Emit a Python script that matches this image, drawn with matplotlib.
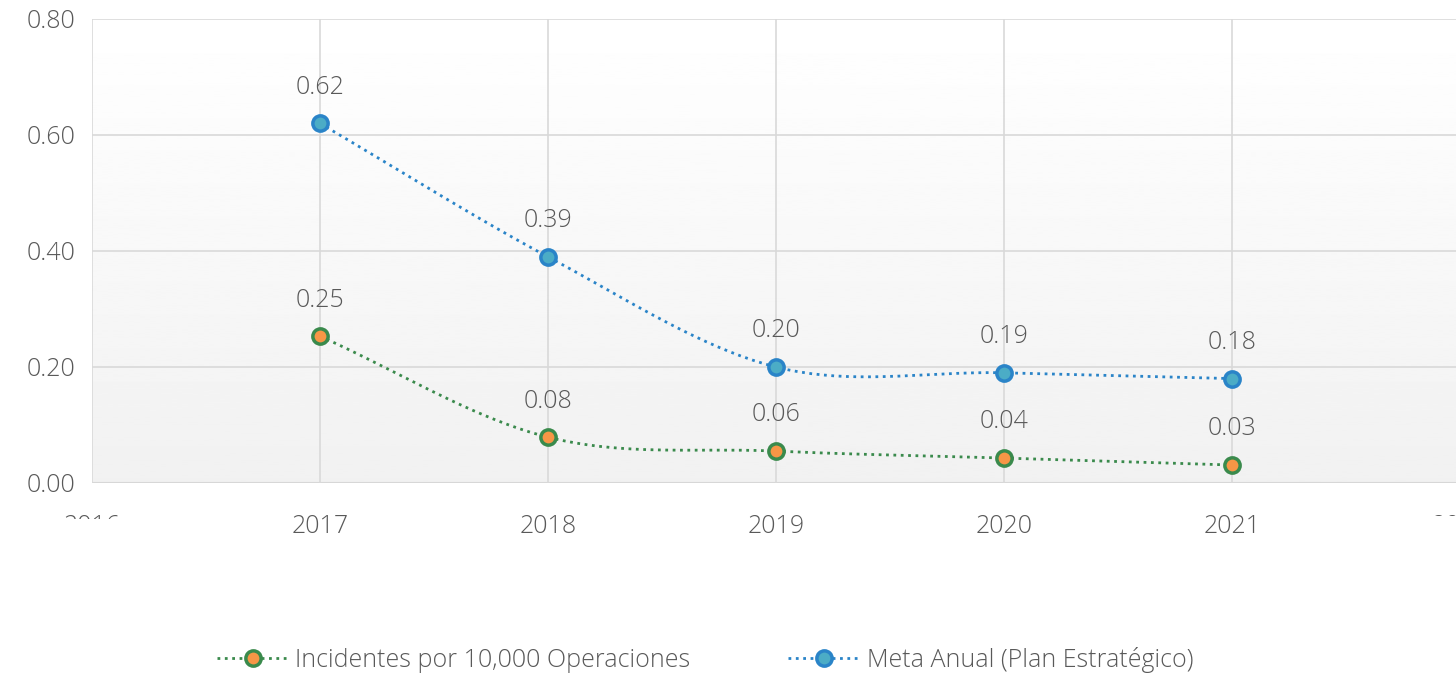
import matplotlib.pyplot as plt
import numpy as np
from matplotlib.lines import Line2D
from matplotlib.transforms import Bbox

years = [2017, 2018, 2019, 2020, 2021]
incidentes = [0.253, 0.079, 0.055, 0.043, 0.031]
meta = [0.62, 0.39, 0.20, 0.19, 0.18]
lbl_inc = ["0.25", "0.08", "0.06", "0.04", "0.03"]
lbl_meta = ["0.62", "0.39", "0.20", "0.19", "0.18"]
xticks = [2016, 2017, 2018, 2019, 2020, 2021, 2022]
yticks = [0.0, 0.2, 0.4, 0.6, 0.8]

plt.rcParams['font.family'] = ['Open Sans', 'DejaVu Sans']
gray = '#595959'


def smooth(x, y, n=40):
    # catmull-rom style smoothing like the spreadsheet "smoothed line"
    x = np.asarray(x, float)
    y = np.asarray(y, float)
    px = np.concatenate([[2 * x[0] - x[1]], x, [2 * x[-1] - x[-2]]])
    py = np.concatenate([[2 * y[0] - y[1]], y, [2 * y[-1] - y[-2]]])
    xs, ys = [], []
    t = np.linspace(0, 1, n)
    for i in range(1, len(px) - 2):
        p0, p1, p2, p3 = py[i - 1], py[i], py[i + 1], py[i + 2]
        q0, q1, q2, q3 = px[i - 1], px[i], px[i + 1], px[i + 2]
        for (a0, a1, a2, a3, out) in ((q0, q1, q2, q3, xs), (p0, p1, p2, p3, ys)):
            out.extend(0.5 * ((2 * a1) + (-a0 + a2) * t
                              + (2 * a0 - 5 * a1 + 4 * a2 - a3) * t ** 2
                              + (-a0 + 3 * a1 - 3 * a2 + a3) * t ** 3))
    return np.array(xs), np.array(ys)


fig = plt.figure(figsize=(14.56, 6.75), dpi=100)
ax = fig.add_axes([92 / 1456, 1 - 483 / 675, 1368 / 1456, 464 / 675])
ax.set_xlim(2016, 2022)
ax.set_ylim(0, 0.8)

# gradient background
grad = np.linspace(1.0, 0.945, 256).reshape(-1, 1)
ax.imshow(grad, extent=[0, 1, 0, 1], transform=ax.transAxes, cmap='gray',
          vmin=0, vmax=1, aspect='auto', zorder=0)

ax.set_xticks(xticks)
ax.set_yticks(yticks)
ax.grid(True, color='#d9d9d9', linewidth=1.2, zorder=1)
for s in ax.spines.values():
    s.set_visible(False)
ax.axhline(0, color='#d0d0d0', linewidth=1.5, zorder=1)
ax.tick_params(length=0, labelsize=18, labelcolor=gray)
ax.tick_params(axis='x', pad=22)
ax.tick_params(axis='y', pad=12)
ax.set_yticklabels(["%.2f" % v for v in yticks])
for lab in ax.get_yticklabels():
    lab.set_fontweight('light')
for lab in ax.get_xticklabels():
    lab.set_fontweight('light')

green = '#3a8a4c'
orange = '#f79646'
blue = '#2a84c8'
teal = '#4bacc6'

sx, sy = smooth(years, incidentes)
ax.plot(sx, sy, color=green, linestyle=':', linewidth=2, zorder=3)
ax.plot(years, incidentes, 'o', markersize=11, markerfacecolor=orange,
        markeredgecolor=green, markeredgewidth=2.5, zorder=4)
sx, sy = smooth(years, meta)
ax.plot(sx, sy, color=blue, linestyle=':', linewidth=2, zorder=3)
ax.plot(years, meta, 'o', markersize=11, markerfacecolor=teal,
        markeredgecolor=blue, markeredgewidth=2.5, zorder=4)

for x, y, t in zip(years, incidentes, lbl_inc):
    ax.annotate(t, (x, y), xytext=(0, 26), textcoords='offset points',
                ha='center', va='center', fontsize=18, color=gray, fontweight='light')
for x, y, t in zip(years, meta, lbl_meta):
    ax.annotate(t, (x, y), xytext=(0, 26), textcoords='offset points',
                ha='center', va='center', fontsize=18, color=gray, fontweight='light')

# edge year labels are cut off in the original
fig.canvas.draw()
clip = Bbox.from_extents(0, 675 - 519, 1456, 675)
labs = ax.get_xticklabels()
labs[0].set_clip_box(clip)
labs[0].set_clip_on(True)
clip2 = Bbox.from_extents(0, 675 - 516, 1456, 675)
labs[-1].set_clip_box(clip2)
labs[-1].set_clip_on(True)

handles = [
    Line2D([0], [0], color=green, linestyle=':', linewidth=2, marker='o',
           markersize=11, markerfacecolor=orange, markeredgecolor=green, markeredgewidth=2.5),
    Line2D([0], [0], color=blue, linestyle=':', linewidth=2, marker='o',
           markersize=11, markerfacecolor=teal, markeredgecolor=blue, markeredgewidth=2.5),
]
leg = fig.legend(handles, ["Incidentes por 10,000 Operaciones", "Meta Anual (Plan Estratégico)"],
                 loc='center', bbox_to_anchor=(705 / 1456, 1 - 660 / 675), ncol=2, frameon=False,
                 fontsize=18, handlelength=2.9, handletextpad=0.25, columnspacing=3.9)
for t in leg.get_texts():
    t.set_color(gray)
    t.set_fontweight('light')

fig.savefig('out.png', dpi=100)
